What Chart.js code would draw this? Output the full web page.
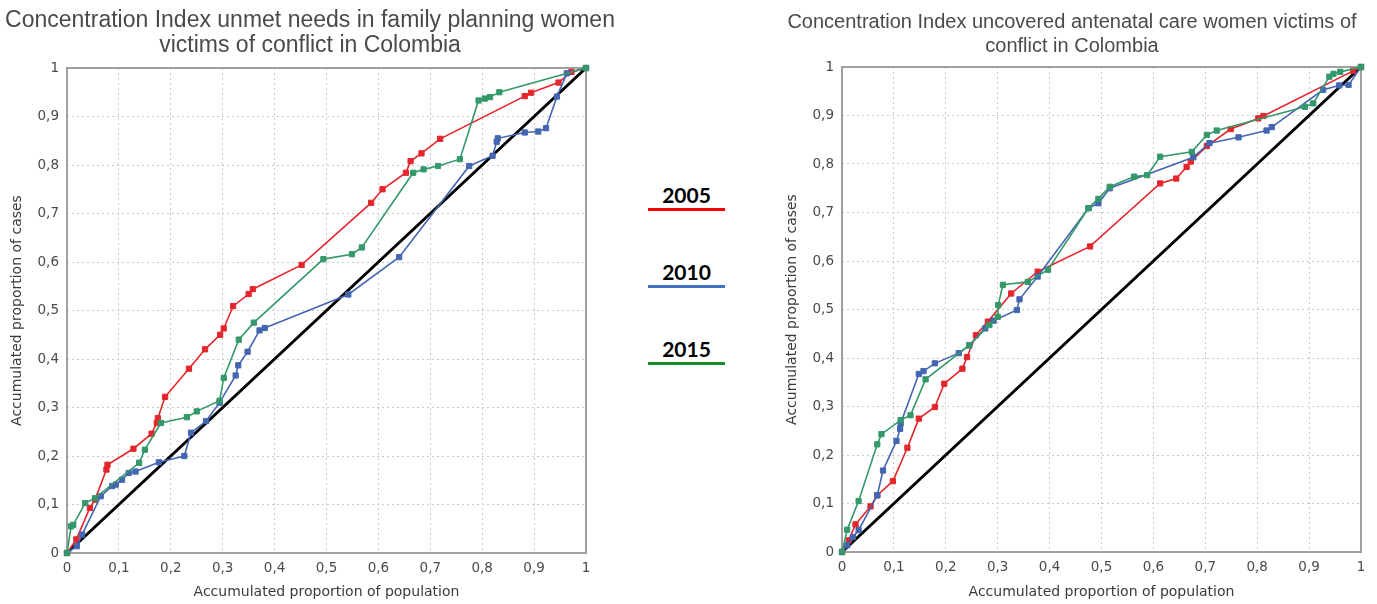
<!DOCTYPE html>
<html><head><meta charset="utf-8">
<script src="https://cdn.jsdelivr.net/npm/chart.js@4"></script>
<style>
html,body{margin:0;padding:0;background:#fff;width:1377px;height:604px;overflow:hidden;position:relative}
#w1{position:absolute;left:0;top:0;width:620px;height:604px}
#w2{position:absolute;left:768px;top:0;width:608px;height:604px}
.lg{position:absolute;left:648px;width:77px;text-align:center;font-family:Lato,'Liberation Sans',sans-serif;font-weight:bold;font-size:21px;line-height:22px;color:#000}
.ln{position:absolute;left:648px;width:77px;height:3px}
</style></head><body>
<div id="w1"><canvas id="c1" width="620" height="604"></canvas></div>
<div id="w2"><canvas id="c2" width="608" height="604"></canvas></div>
<div class="lg" style="top:184px">2005</div><div class="ln" style="top:208px;background:#ff0000"></div>
<div class="lg" style="top:261px">2010</div><div class="ln" style="top:285px;background:#4472c4"></div>
<div class="lg" style="top:338px">2015</div><div class="ln" style="top:362px;background:#1a8a2a"></div>
<script>
// ---- data ----
const seriesNames = ['2005', '2010', '2015'];
const tickValues = [0, 0.1, 0.2, 0.3, 0.4, 0.5, 0.6, 0.7, 0.8, 0.9, 1];
const equalityX = [0, 1];
const equalityY = [0, 1];

// Left: unmet needs in family planning
const leftX2005 = [0,0.018,0.044,0.054,0.076,0.078,0.128,0.163,0.173,0.175,0.189,0.235,0.266,0.295,0.302,0.32,0.35,0.358,0.452,0.586,0.608,0.653,0.662,0.683,0.719,0.882,0.894,0.947,0.972,1];
const leftY2005 = [0,0.028,0.093,0.11,0.172,0.182,0.215,0.246,0.268,0.278,0.322,0.38,0.42,0.45,0.463,0.509,0.534,0.544,0.594,0.722,0.75,0.784,0.808,0.824,0.854,0.942,0.949,0.97,0.992,1];
const leftX2010 = [0,0.019,0.029,0.065,0.087,0.094,0.106,0.119,0.132,0.177,0.226,0.239,0.268,0.294,0.325,0.33,0.348,0.371,0.381,0.542,0.64,0.775,0.82,0.828,0.83,0.882,0.908,0.923,0.944,0.963,1];
const leftY2010 = [0,0.014,0.038,0.117,0.138,0.141,0.151,0.165,0.168,0.187,0.2,0.248,0.272,0.31,0.366,0.387,0.415,0.459,0.464,0.533,0.61,0.798,0.819,0.848,0.855,0.867,0.869,0.876,0.941,0.989,1];
const leftX2015 = [0,0.008,0.012,0.035,0.054,0.139,0.15,0.181,0.231,0.25,0.294,0.302,0.331,0.36,0.494,0.549,0.568,0.667,0.687,0.715,0.757,0.793,0.805,0.815,0.833,1];
const leftY2015 = [0,0.055,0.058,0.103,0.113,0.186,0.213,0.268,0.28,0.292,0.314,0.361,0.44,0.475,0.606,0.616,0.63,0.784,0.791,0.798,0.812,0.933,0.937,0.94,0.95,1];

// Right: uncovered antenatal care
const rightX2005 = [0,0.013,0.026,0.055,0.068,0.098,0.126,0.148,0.179,0.197,0.232,0.241,0.258,0.281,0.326,0.377,0.478,0.613,0.644,0.664,0.672,0.703,0.749,0.802,0.812,0.985,1];
const rightY2005 = [0,0.024,0.057,0.094,0.117,0.146,0.215,0.275,0.299,0.347,0.378,0.402,0.447,0.475,0.533,0.578,0.63,0.76,0.77,0.794,0.805,0.837,0.872,0.894,0.899,0.992,1];
const rightX2010 = [0,0.01,0.021,0.032,0.068,0.079,0.105,0.112,0.113,0.148,0.157,0.179,0.225,0.245,0.276,0.292,0.337,0.342,0.377,0.475,0.494,0.516,0.677,0.708,0.764,0.818,0.828,0.927,0.958,0.976,1];
const rightY2010 = [0,0.014,0.031,0.045,0.117,0.168,0.229,0.254,0.265,0.367,0.373,0.389,0.41,0.426,0.461,0.477,0.499,0.521,0.568,0.709,0.719,0.75,0.814,0.843,0.855,0.869,0.876,0.953,0.962,0.963,1];
const rightX2015 = [0,0.01,0.032,0.068,0.076,0.113,0.132,0.161,0.245,0.284,0.3,0.301,0.31,0.358,0.397,0.475,0.494,0.516,0.563,0.588,0.613,0.674,0.703,0.722,0.892,0.908,0.939,0.947,0.96,1];
const rightY2015 = [0,0.046,0.105,0.222,0.243,0.272,0.282,0.356,0.426,0.468,0.485,0.509,0.551,0.557,0.582,0.709,0.728,0.753,0.774,0.777,0.815,0.825,0.86,0.869,0.918,0.925,0.98,0.986,0.99,1];

// ---- styling ----
const colors = {'2005':'#e4262c','2010':'#4466b2','2015':'#34986a'};
function pts(xs, ys){ return xs.map((x,i)=>({x:x, y:ys[i]})); }
function fmt(v){ if (Math.abs(v) < 1e-9) return '0'; if (Math.abs(v-1) < 1e-9) return '1'; return v.toFixed(1).replace('.', ','); }

const framePlugin = {
  id:'frame',
  beforeDatasetsDraw(chart){
    const {ctx, chartArea:a} = chart;
    ctx.save(); ctx.strokeStyle='#a0a0a0'; ctx.lineWidth=2;
    ctx.strokeRect(a.left, a.top, a.right-a.left, a.bottom-a.top);
    ctx.restore();
  }
};

function seriesDs(name, xs, ys){
  return {label:name, data:pts(xs,ys), borderColor:colors[name], backgroundColor:colors[name],
    borderWidth:1.6, pointStyle:'rect', pointRadius:3.7, pointBorderWidth:1, tension:0, clip:6};
}

function build(canvasId, title, sets, yW, xH, rightW, yTitlePad, tFont, tLH, tTop, tBottom){
  const datasets = [
    seriesDs('2015', sets[2][0], sets[2][1]),
    seriesDs('2010', sets[1][0], sets[1][1]),
    seriesDs('2005', sets[0][0], sets[0][1]),
    {label:'equality', data:pts(equalityX, equalityY), borderColor:'#000', borderWidth:3, pointRadius:0, clip:4}
  ];
  const tickFont = {family:'DejaVu Sans', size:13.5};
  const gridCfg = {color:'#c9c9c9', lineWidth:1, drawTicks:false};
  return new Chart(document.getElementById(canvasId), {
    type:'line',
    data:{datasets},
    options:{
      responsive:false, animation:false, events:[],
      layout:{padding:0},
      plugins:{
        legend:{display:false}, tooltip:{enabled:false},
        title:{display:true, text:title, color:'#4a4a4a',
          font:{family:'Liberation Sans', size:tFont, weight:'normal', lineHeight:tLH},
          padding:{top:tTop, bottom:tBottom}}
      },
      scales:{
        x:{type:'linear', min:0, max:1,
          afterBuildTicks(s){ s.ticks = tickValues.map(v=>({value:v})); },
          ticks:{callback:fmt, color:'#4a4a4a', font:tickFont, padding:7, maxRotation:0, autoSkip:false},
          grid:gridCfg, border:{display:false, dash:[2,3]},
          title:{display:true, text:'Accumulated proportion of population', color:'#3a3a3a',
            font:{family:'DejaVu Sans', size:14}, padding:{top:0, bottom:3}},
          afterFit(s){ s.height = xH; }
        },
        y:{type:'linear', min:0, max:1,
          afterBuildTicks(s){ s.ticks = tickValues.map(v=>({value:v})); },
          ticks:{callback:fmt, color:'#4a4a4a', font:tickFont, padding:8, autoSkip:false},
          grid:gridCfg, border:{display:false, dash:[2,3]},
          title:{display:true, text:'Accumulated proportion of cases', color:'#3a3a3a',
            font:{family:'DejaVu Sans', size:14}, padding:{top:yTitlePad, bottom:0}},
          afterFit(s){ s.width = yW; }
        },
        yRight:{type:'linear', position:'right', min:0, max:1, display:true,
          ticks:{display:false}, grid:{display:false}, border:{display:false},
          afterFit(s){ s.width = rightW; }
        }
      }
    },
    plugins:[framePlugin]
  });
}

build('c1', ['Concentration Index unmet needs in family planning women','victims of conflict in Colombia'],
  [[leftX2005,leftY2005],[leftX2010,leftY2010],[leftX2015,leftY2015]], 67, 51, 34, 9, 23, 1.087, 8.5, 9.5);
build('c2', ['Concentration Index uncovered antenatal care women victims of','conflict in Colombia'],
  [[rightX2005,rightY2005],[rightX2010,rightY2010],[rightX2015,rightY2015]], 74, 52, 15, 16, 20, 1.2, 10, 9);
</script>
</body></html>
